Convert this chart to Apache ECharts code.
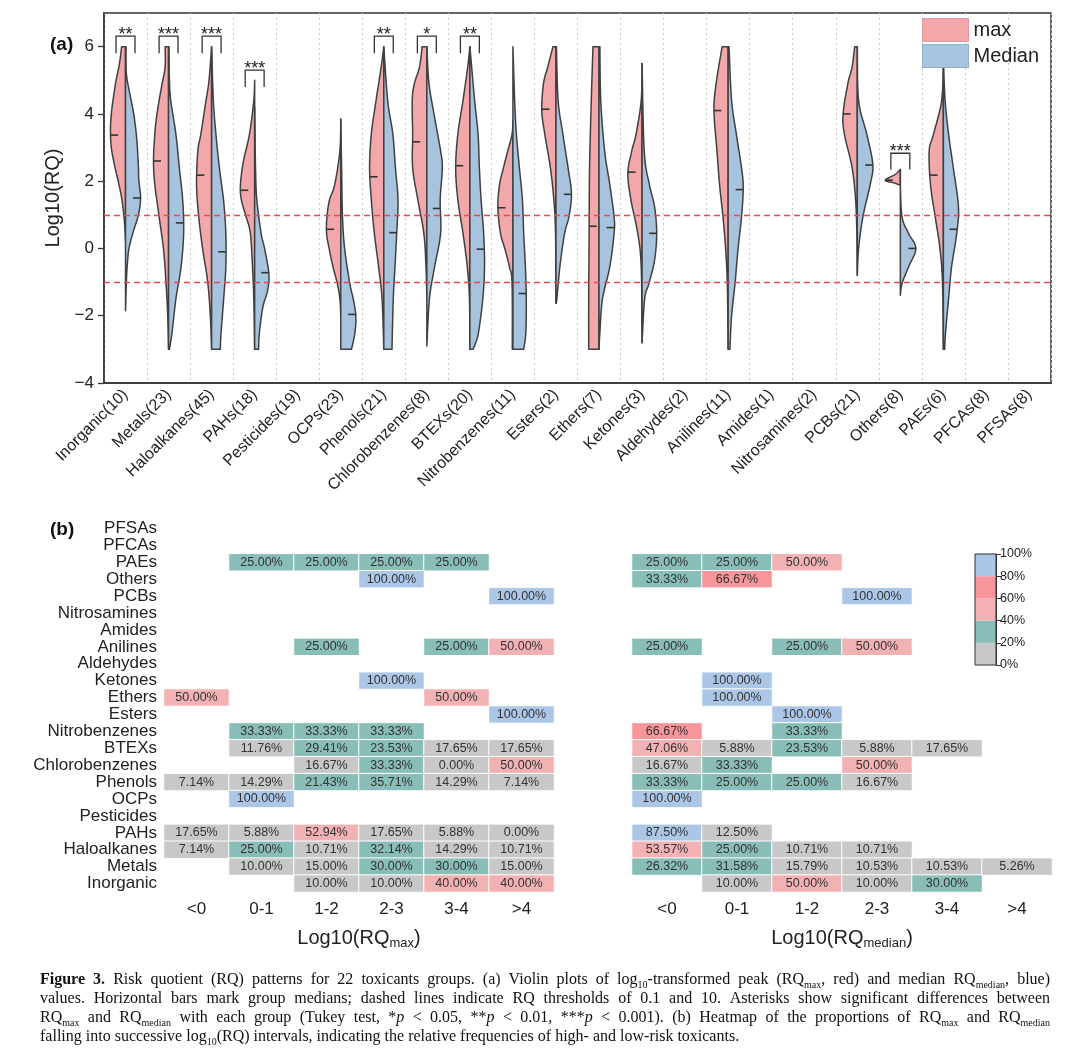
<!DOCTYPE html>
<html>
<head>
<meta charset="utf-8">
<script src="https://cdn.jsdelivr.net/npm/echarts@6/dist/echarts.min.js"></script>
<style>
html,body{margin:0;padding:0;background:#fff;}
#chart{width:1080px;height:1049px;}
</style>
</head>
<body>
<div id="chart"></div>
<script>
// ---------------- DATA ----------------
const groupNames = ['Inorganic','Metals','Haloalkanes','PAHs','Pesticides','OCPs','Phenols','Chlorobenzenes','BTEXs','Nitrobenzenes','Esters','Ethers','Ketones','Aldehydes','Anilines','Amides','Nitrosamines','PCBs','Others','PAEs','PFCAs','PFSAs'];
const groupCounts = [10,23,45,18,19,23,21,8,20,11,2,7,3,2,11,1,2,21,8,6,8,8];

// violin half profiles: [log10(RQ), half-width as fraction of category band]
const maxProfiles = [
  [[6,0.09],[5.5,0.14],[5,0.22],[4.5,0.28],[4,0.33],[3.5,0.35],[3,0.33],[2.5,0.26],[2,0.17],[1.5,0.09],[1,0.04],[0.5,0.01],[0.2,0]],
  [[6,0.08],[5.4,0.08],[4.9,0.15],[4.4,0.22],[3.9,0.28],[3.4,0.32],[2.6,0.35],[1.9,0.32],[0.95,0.22],[0,0.12],[-1,0.06],[-2,0.02],[-3,0]],
  [[6,0],[5,0.06],[4.4,0.13],[3.4,0.25],[2.9,0.32],[1.9,0.35],[0.95,0.3],[0,0.21],[-1,0.09],[-2,0.03],[-3,0]],
  [[5,0],[4.4,0.02],[3.4,0.12],[2.6,0.26],[1.9,0.33],[1.45,0.31],[0.95,0.2],[0.45,0.1],[-0.55,0.05],[-1.5,0.02],[-3,0]],
  null,
  [[3.85,0],[2.9,0.02],[1.9,0.14],[1.45,0.26],[0.95,0.32],[0.45,0.33],[0,0.27],[-0.55,0.18],[-1.04,0.08],[-1.5,0.02],[-2,0]],
  [[6,0],[5.4,0.06],[4.4,0.18],[3.4,0.29],[2.4,0.33],[1.45,0.29],[0.45,0.22],[-0.55,0.12],[-1.5,0.04],[-3,0]],
  [[6,0.11],[5.4,0.17],[4.9,0.29],[4.4,0.34],[3.4,0.33],[2.4,0.33],[1.45,0.21],[0.45,0.07],[-0.55,0.02],[-1.5,0]],
  [[6,0],[5.4,0.05],[4.4,0.16],[3.4,0.28],[2.4,0.33],[1.45,0.28],[0.45,0.16],[-0.55,0.06],[-1.5,0.01],[-3,0]],
  [[3.8,0],[3.4,0.02],[2.9,0.12],[2.4,0.22],[1.9,0.31],[1.24,0.35],[0.45,0.29],[0,0.19],[-0.55,0.08],[-1.04,0.02],[-3,0.015]],
  [[6,0.07],[5.4,0.19],[4.9,0.29],[4.1,0.33],[3.4,0.26],[2.4,0.13],[1.45,0.05],[0.45,0.01],[-1.63,0]],
  [[6,0.14],[4.4,0.18],[2.4,0.22],[0.45,0.23],[-1.5,0.24],[-3,0.24]],
  [[5.5,0],[4.4,0.02],[3.4,0.14],[2.9,0.24],[2.23,0.33],[1.45,0.26],[0.45,0.1],[-0.55,0.02],[-2.8,0]],
  null,
  [[6,0.14],[4.9,0.28],[4.1,0.33],[2.9,0.26],[1.9,0.2],[0.94,0.12],[0,0.06],[-1.04,0.02],[-3,0]],
  null,
  null,
  [[6,0.06],[5.4,0.12],[4.9,0.22],[4,0.33],[3.4,0.3],[2.4,0.12],[1.45,0.04],[0.45,0.01],[-0.8,0]],
  [[2.35,0],[2.2,0.12],[2.03,0.35],[1.95,0.15],[1.88,0]],
  [[5.57,0],[4.4,0.04],[3.4,0.23],[2.9,0.33],[1.9,0.3],[0.94,0.19],[0,0.08],[-1.04,0.02],[-3,0]],
  null,
  null
];
const medianProfiles = [
  [[6,0.01],[5.2,0.02],[4.6,0.1],[4,0.19],[3.4,0.25],[2.9,0.28],[2.4,0.3],[2,0.31],[1.5,0.35],[1,0.3],[0.5,0.18],[0,0.08],[-0.5,0.04],[-1,0.02],[-1.85,0]],
  [[6,0.01],[5,0.02],[4.4,0.05],[3.4,0.17],[2.4,0.25],[1.4,0.33],[0.45,0.35],[-0.55,0.29],[-1.5,0.17],[-2.5,0.08],[-3,0.02]],
  [[6,0],[4.4,0.04],[3.4,0.1],[2.4,0.18],[1.4,0.28],[0.45,0.33],[-0.55,0.33],[-1.5,0.28],[-2.5,0.22],[-3,0.2]],
  [[4.2,0],[2.4,0.02],[1.45,0.05],[0.45,0.15],[0,0.23],[-0.75,0.33],[-1.25,0.3],[-1.75,0.19],[-2.5,0.11],[-3,0.09]],
  null,
  [[3.85,0],[2.4,0.02],[0.95,0.04],[0,0.09],[-1.04,0.21],[-1.5,0.29],[-2,0.35],[-2.5,0.33],[-3,0.25]],
  [[6,0],[4.4,0.09],[3.4,0.21],[2.4,0.27],[1.45,0.33],[0.45,0.3],[-0.55,0.26],[-1.5,0.22],[-3,0.19]],
  [[6,0],[4.9,0.05],[3.9,0.18],[2.9,0.32],[2.4,0.36],[1.45,0.31],[0.45,0.32],[-0.55,0.18],[-1.5,0.06],[-2.9,0]],
  [[6,0],[4.4,0.11],[3.4,0.19],[2.4,0.22],[1.45,0.26],[0.45,0.32],[-0.55,0.34],[-1.5,0.3],[-2.5,0.2],[-2.85,0.12],[-3,0.07]],
  [[6,0],[4.4,0.04],[3.4,0.08],[2.4,0.15],[1.45,0.22],[0.45,0.25],[-0.55,0.29],[-1.5,0.31],[-2.5,0.3],[-3,0.25]],
  [[6,0.01],[4.4,0.05],[3.4,0.16],[2.4,0.28],[1.63,0.36],[0.94,0.3],[0.45,0.2],[-0.55,0.09],[-1.5,0.02],[-1.63,0]],
  [[6,0.02],[4.4,0.04],[2.9,0.13],[1.9,0.25],[0.94,0.35],[0.45,0.35],[-0.55,0.25],[-1.5,0.08],[-2.5,0.02],[-3,0]],
  [[5.5,0],[2.9,0.05],[1.9,0.17],[1.24,0.29],[0.45,0.34],[-0.35,0.29],[-1.04,0.16],[-1.5,0.06],[-2.8,0]],
  null,
  [[6,0.02],[4.4,0.08],[3.4,0.19],[2.4,0.31],[1.8,0.35],[0.94,0.31],[0,0.23],[-1.04,0.16],[-2,0.08],[-3,0.04]],
  null,
  null,
  [[6,0],[4.4,0.03],[3.4,0.22],[2.5,0.36],[1.9,0.3],[0.94,0.13],[0,0.03],[-0.8,0]],
  [[2.35,0],[1.88,0],[0.94,0.04],[0.45,0.19],[0,0.36],[-0.55,0.19],[-1.04,0.04],[-1.39,0]],
  [[5.57,0],[4.4,0.04],[3.4,0.12],[2.4,0.23],[1.24,0.35],[0.45,0.31],[-0.55,0.19],[-1.5,0.12],[-2.5,0.05],[-3,0.03]],
  null,
  null
];
const maxMedians    = [3.37,2.6,2.18,1.73,null,0.57,2.13,3.17,2.46,1.21,4.14,0.66,2.27,null,4.1,null,null,4.0,2.03,2.18,null,null];
const medianMedians = [1.5,0.76,-0.1,-0.72,null,-1.96,0.47,1.19,-0.02,-1.34,1.61,0.62,0.45,null,1.75,null,null,2.48,0.0,0.57,null,null];

// significance brackets: [category index, label, bracket top, leg bottom]
const sigBrackets = [
  [0,'**',6.31,5.8],[1,'***',6.31,5.8],[2,'***',6.31,5.8],[3,'***',5.3,4.8],
  [6,'**',6.31,5.8],[7,'*',6.31,5.8],[8,'**',6.31,5.8],[18,'***',2.83,2.35]
];
const thresholds = [1, -1];
const yTicks = [-4,-2,0,2,4,6];

// heatmap
const rqBins = ['<0','0-1','1-2','2-3','3-4','>4'];
const maxCells = [
  ['PAEs',1,25],['PAEs',2,25],['PAEs',3,25],['PAEs',4,25],
  ['Others',3,100],
  ['PCBs',5,100],
  ['Anilines',2,25],['Anilines',4,25],['Anilines',5,50],
  ['Ketones',3,100],
  ['Ethers',0,50],['Ethers',4,50],
  ['Esters',5,100],
  ['Nitrobenzenes',1,33.33],['Nitrobenzenes',2,33.33],['Nitrobenzenes',3,33.33],
  ['BTEXs',1,11.76],['BTEXs',2,29.41],['BTEXs',3,23.53],['BTEXs',4,17.65],['BTEXs',5,17.65],
  ['Chlorobenzenes',2,16.67],['Chlorobenzenes',3,33.33],['Chlorobenzenes',4,0],['Chlorobenzenes',5,50],
  ['Phenols',0,7.14],['Phenols',1,14.29],['Phenols',2,21.43],['Phenols',3,35.71],['Phenols',4,14.29],['Phenols',5,7.14],
  ['OCPs',1,100],
  ['PAHs',0,17.65],['PAHs',1,5.88],['PAHs',2,52.94],['PAHs',3,17.65],['PAHs',4,5.88],['PAHs',5,0],
  ['Haloalkanes',0,7.14],['Haloalkanes',1,25],['Haloalkanes',2,10.71],['Haloalkanes',3,32.14],['Haloalkanes',4,14.29],['Haloalkanes',5,10.71],
  ['Metals',1,10],['Metals',2,15],['Metals',3,30],['Metals',4,30],['Metals',5,15],
  ['Inorganic',2,10],['Inorganic',3,10],['Inorganic',4,40],['Inorganic',5,40]
];
const medianCells = [
  ['PAEs',0,25],['PAEs',1,25],['PAEs',2,50],
  ['Others',0,33.33],['Others',1,66.67],
  ['PCBs',3,100],
  ['Anilines',0,25],['Anilines',2,25],['Anilines',3,50],
  ['Ketones',1,100],
  ['Ethers',1,100],
  ['Esters',2,100],
  ['Nitrobenzenes',0,66.67],['Nitrobenzenes',2,33.33],
  ['BTEXs',0,47.06],['BTEXs',1,5.88],['BTEXs',2,23.53],['BTEXs',3,5.88],['BTEXs',4,17.65],
  ['Chlorobenzenes',0,16.67],['Chlorobenzenes',1,33.33],['Chlorobenzenes',3,50],
  ['Phenols',0,33.33],['Phenols',1,25],['Phenols',2,25],['Phenols',3,16.67],
  ['OCPs',0,100],
  ['PAHs',0,87.5],['PAHs',1,12.5],
  ['Haloalkanes',0,53.57],['Haloalkanes',1,25],['Haloalkanes',2,10.71],['Haloalkanes',3,10.71],
  ['Metals',0,26.32],['Metals',1,31.58],['Metals',2,15.79],['Metals',3,10.53],['Metals',4,10.53],['Metals',5,5.26],
  ['Inorganic',1,10],['Inorganic',2,50],['Inorganic',3,10],['Inorganic',4,30]
];
const colorBreaks = [0,20,40,60,80,100];

const captionLines = [
  '{b|Figure} {b|3.} Risk quotient (RQ) patterns for 22 toxicants groups. (a) Violin plots of log{sub|10}-transformed peak (RQ{sub|max}, red) and median RQ{sub|median}, blue)',
  'values. Horizontal bars mark group medians; dashed lines indicate RQ thresholds of 0.1 and 10. Asterisks show significant differences between',
  'RQ{sub|max} and RQ{sub|median} with each group (Tukey test, *{i|p} < 0.05, **{i|p} < 0.01, ***{i|p} < 0.001). (b) Heatmap of the proportions of RQ{sub|max} and RQ{sub|median}',
  'falling into successive log{sub|10}(RQ) intervals, indicating the relative frequencies of high- and low-risk toxicants.'
];

// ---------------- STYLE ----------------
const FONT = '"Liberation Sans", Arial, sans-serif';
const SERIF = '"Liberation Serif", "Times New Roman", serif';
const RED = '#f2a8ab', BLUE = '#a8c3dd', OUTLINE = '#404040';
const binColors = ['#c8c8c8','#88beb7','#f2b2b4','#f7969a','#abc6e7'];
const DASH_RED = '#e84a55';

// ---------------- HELPERS ----------------
function crSample(pts, n) {
  const out = [];
  for (let i = 0; i < pts.length - 1; i++) {
    const p0 = pts[i - 1] || pts[i], p1 = pts[i], p2 = pts[i + 1], p3 = pts[i + 2] || pts[i + 1];
    for (let k = 0; k < n; k++) {
      const t = k / n, t2 = t * t, t3 = t2 * t;
      const f = (a, b, c, d) => 0.5 * (2 * b + (-a + c) * t + (2 * a - 5 * b + 4 * c - d) * t2 + (-a + 3 * b - 3 * c + d) * t3);
      out.push([f(p0[0], p1[0], p2[0], p3[0]), f(p0[1], p1[1], p2[1], p3[1])]);
    }
  }
  out.push(pts[pts.length - 1]);
  return out;
}
function widthAt(prof, v) {
  for (let i = 0; i < prof.length - 1; i++) {
    const a = prof[i], b = prof[i + 1];
    if (v <= a[0] && v >= b[0]) {
      const t = (a[0] - v) / (a[0] - b[0] || 1);
      return a[1] + (b[1] - a[1]) * t;
    }
  }
  return 0;
}
function violinRender(profiles, medians, side, color) {
  return function (params, api) {
    const i = api.value(0);
    const prof = profiles[i];
    const band = api.size([1, 0])[0];
    const cx = api.coord([i, 0])[0];
    const pts = prof.map(p => [cx + side * p[1] * band, api.coord([i, p[0]])[1]]);
    const edge = crSample(pts, 12).map(p => [side < 0 ? Math.min(p[0], cx) : Math.max(p[0], cx), p[1]]);
    const poly = [[cx, pts[0][1]]].concat(edge, [[cx, pts[pts.length - 1][1]]]);
    const children = [{
      type: 'polygon', shape: { points: poly },
      style: { fill: color, stroke: OUTLINE, lineWidth: 1.5, lineJoin: 'round' }
    }];
    const m = medians[i];
    if (m != null) {
      const w = widthAt(prof, m) * band;
      const my = api.coord([i, m])[1];
      const len = Math.min(w, 7.5);
      children.push({
        type: 'line',
        shape: { x1: cx + side * w, y1: my, x2: cx + side * (w - len), y2: my },
        style: { stroke: '#333', lineWidth: 1.6 }
      });
    }
    return { type: 'group', children };
  };
}
function sigRender(params, api) {
  const i = api.value(0);
  const b = sigBrackets[params.dataIndex];
  const band = api.size([1, 0])[0];
  const cx = api.coord([i, 0])[0];
  const yT = api.coord([i, api.value(1)])[1];
  const yL = api.coord([i, api.value(2)])[1];
  const xL = cx - 0.22 * band, xR = cx + 0.22 * band;
  return {
    type: 'group', children: [
      { type: 'polyline', shape: { points: [[xL, yL], [xL, yT], [xR, yT], [xR, yL]] }, style: { stroke: '#333', lineWidth: 1.3, fill: null } },
      { type: 'text', x: cx, y: yT - 1, style: { text: b[1], align: 'center', verticalAlign: 'middle', fontSize: 18, fontFamily: FONT, fill: '#222' } }
    ]
  };
}

// caption layout (justified)
const capSize = 16;
const capRich = {
  b: { fontWeight: 'bold', fontSize: capSize, fontFamily: SERIF, lineHeight: 20 },
  i: { fontStyle: 'italic', fontSize: capSize, fontFamily: SERIF, lineHeight: 20 },
  sub: { fontSize: 10, fontFamily: SERIF, verticalAlign: 'bottom', lineHeight: 10 }
};
const mctx = document.createElement('canvas').getContext('2d');
function segs(word) {
  const re = /\{(\w+)\|([^}]*)\}|([^{]+)/g; const out = []; let m;
  while ((m = re.exec(word))) out.push(m[1] ? [m[1], m[2]] : ['n', m[3]]);
  return out;
}
function fontOf(st) {
  if (st === 'b') return 'bold ' + capSize + 'px ' + SERIF;
  if (st === 'i') return 'italic ' + capSize + 'px ' + SERIF;
  if (st === 'sub') return '10px ' + SERIF;
  return capSize + 'px ' + SERIF;
}
function measureWord(w) {
  return segs(w).reduce((s, sg) => { mctx.font = fontOf(sg[0]); return s + mctx.measureText(sg[1]).width; }, 0);
}
const capLeft = 40, capRight = 1050, capTop = 980, capStep = 19;
const captionGraphics = [];
captionLines.forEach((line, li) => {
  const words = line.split(' ');
  const ws = words.map(measureWord);
  const total = ws.reduce((a, b) => a + b, 0);
  mctx.font = fontOf('n');
  const space = mctx.measureText(' ').width;
  const justify = li < captionLines.length - 1;
  const gap = justify ? (capRight - capLeft - total) / (words.length - 1) : space;
  let x = capLeft;
  words.forEach((w, k) => {
    captionGraphics.push({
      type: 'text', x: x, y: capTop + li * capStep,
      style: { text: w, rich: capRich, fontSize: capSize, fontFamily: SERIF, lineHeight: 20, fill: '#111', align: 'left', verticalAlign: 'middle' }
    });
    x += ws[k] + gap;
  });
});

// ---------------- OPTION ----------------
const violinIdx = groupNames.map((_, i) => i).filter(i => maxProfiles[i]);
const rowIndex = n => groupNames.indexOf(n);

const option = {
  animation: false,
  textStyle: { fontFamily: FONT },
  legend: {
    data: [
      { name: 'max', icon: 'rect', itemStyle: { color: RED, borderColor: '#e39a9e', borderWidth: 1 } },
      { name: 'Median', icon: 'rect', itemStyle: { color: BLUE, borderColor: '#92aecb', borderWidth: 1 } }
    ],
    orient: 'vertical', left: 922, top: 18, itemWidth: 46, itemHeight: 23, itemGap: 2,
    textStyle: { fontSize: 20, color: '#222', fontFamily: FONT }, padding: 0
  },
  grid: [
    { left: 104, top: 13, width: 947, height: 370, show: true, borderColor: '#333', borderWidth: 1.5, backgroundColor: 'transparent' },
    { left: 164, top: 520, width: 390, height: 372 },
    { left: 632, top: 520, width: 420, height: 372 },
    { left: 975, top: 554, width: 21, height: 111, show: true, borderColor: '#333', borderWidth: 1, z: 5 }
  ],
  xAxis: [
    {
      type: 'category', gridIndex: 0, data: groupNames.map((n, i) => n + '(' + groupCounts[i] + ')'),
      axisLine: { onZero: false, lineStyle: { color: '#333', width: 1.5 } },
      axisTick: { alignWithLabel: true, length: 6, lineStyle: { color: '#333', width: 1.3 } },
      axisLabel: { interval: 0, rotate: 45, fontSize: 16, color: '#222', margin: 9 },
      splitLine: { show: true, interval: 0, lineStyle: { color: '#c8c8c8', type: [2, 3], width: 1 } }
    },
    {
      type: 'category', gridIndex: 1, data: rqBins,
      axisLine: { show: false, onZero: false },
      axisTick: { alignWithLabel: true, length: 4, lineStyle: { color: '#555', width: 1.5 } },
      axisLabel: { fontSize: 17, color: '#222', margin: 9 },
      name: 'Log10(RQ{sub|max})', nameLocation: 'middle', nameGap: 34,
      nameTextStyle: { fontSize: 20, color: '#222', lineHeight: 24, rich: { sub: { fontSize: 13, verticalAlign: 'bottom', lineHeight: 13, color: '#222', fontFamily: FONT } } }
    },
    {
      type: 'category', gridIndex: 2, data: rqBins,
      axisLine: { show: false, onZero: false },
      axisTick: { alignWithLabel: true, length: 4, lineStyle: { color: '#555', width: 1.5 } },
      axisLabel: { fontSize: 17, color: '#222', margin: 9 },
      name: 'Log10(RQ{sub|median})', nameLocation: 'middle', nameGap: 34,
      nameTextStyle: { fontSize: 20, color: '#222', lineHeight: 24, rich: { sub: { fontSize: 13, verticalAlign: 'bottom', lineHeight: 13, color: '#222', fontFamily: FONT } } }
    },
    { type: 'category', gridIndex: 3, data: [''], show: false }
  ],
  yAxis: [
    {
      type: 'value', gridIndex: 0, min: -4, max: 7,
      axisLine: { show: true, onZero: false, lineStyle: { color: '#333', width: 1.5 } },
      axisTick: { show: true, length: 6, customValues: yTicks, lineStyle: { color: '#333', width: 1.3 } },
      axisLabel: { customValues: yTicks, fontSize: 17, color: '#222', margin: 10, formatter: v => String(v).replace('-', '\u2212') },
      splitLine: { show: false },
      name: 'Log10(RQ)', nameLocation: 'middle', nameGap: 38,
      nameTextStyle: { fontSize: 20, color: '#222' }
    },
    {
      type: 'category', gridIndex: 1, data: groupNames,
      axisLine: { show: false, onZero: false },
      axisTick: { alignWithLabel: true, length: 5, lineStyle: { color: '#333', width: 1.2 } },
      axisLabel: { interval: 0, fontSize: 17, color: '#222', margin: 7 }
    },
    { type: 'category', gridIndex: 2, data: groupNames, show: false },
    {
      type: 'value', gridIndex: 3, min: 0, max: 100, interval: 20, position: 'right',
      axisLine: { show: true, lineStyle: { color: '#333', width: 1 } },
      axisTick: { show: true, length: 5, lineStyle: { color: '#333' } },
      axisLabel: { fontSize: 12.5, color: '#222', margin: 4, formatter: '{value}%' },
      splitLine: { show: false }
    }
  ],
  visualMap: {
    type: 'piecewise', show: false, dimension: 2, seriesIndex: [4, 5],
    pieces: binColors.map((c, k) => k === binColors.length - 1
      ? { gte: colorBreaks[k], lte: colorBreaks[k + 1], color: c }
      : { gte: colorBreaks[k], lt: colorBreaks[k + 1], color: c })
  },
  series: [
    {
      name: 'max', type: 'custom', xAxisIndex: 0, yAxisIndex: 0, itemStyle: { color: RED },
      renderItem: violinRender(maxProfiles, maxMedians, -1, RED),
      data: violinIdx.map(i => [i, maxMedians[i]]), z: 2
    },
    {
      name: 'Median', type: 'custom', xAxisIndex: 0, yAxisIndex: 0, itemStyle: { color: BLUE },
      renderItem: violinRender(medianProfiles, medianMedians, 1, BLUE),
      data: violinIdx.map(i => [i, medianMedians[i]]), z: 2
    },
    {
      name: 'sig', type: 'custom', xAxisIndex: 0, yAxisIndex: 0,
      renderItem: sigRender,
      data: sigBrackets.map(b => [b[0], b[2], b[3]]), z: 3
    },
    {
      name: 'thr', type: 'line', xAxisIndex: 0, yAxisIndex: 0, data: [], z: 4,
      color: DASH_RED,
      markLine: {
        silent: true, symbol: 'none', label: { show: false },
        lineStyle: { color: DASH_RED, type: [6, 4], width: 1.3 },
        data: thresholds.map(t => ({ yAxis: t, lineStyle: { color: DASH_RED, type: [6, 4], width: 1.3 } }))
      }
    },
    {
      name: 'heatMax', type: 'heatmap', xAxisIndex: 1, yAxisIndex: 1,
      data: maxCells.map(c => [c[1], rowIndex(c[0]), c[2]]),
      itemStyle: { borderColor: '#fff', borderWidth: 1 },
      label: { show: true, fontSize: 12.5, color: '#333', formatter: p => p.value[2].toFixed(2) + '%' }
    },
    {
      name: 'heatMedian', type: 'heatmap', xAxisIndex: 2, yAxisIndex: 2,
      data: medianCells.map(c => [c[1], rowIndex(c[0]), c[2]]),
      itemStyle: { borderColor: '#fff', borderWidth: 1 },
      label: { show: true, fontSize: 12.5, color: '#333', formatter: p => p.value[2].toFixed(2) + '%' }
    }
  ].concat(binColors.map((c, k) => ({
    name: 'cb' + k, type: 'bar', xAxisIndex: 3, yAxisIndex: 3, stack: 'cb', barWidth: '100%',
    data: [colorBreaks[k + 1] - colorBreaks[k]], itemStyle: { color: c }, silent: true
  }))),
  graphic: [
    { type: 'text', x: 50, y: 45, style: { text: '(a)', fontSize: 19, fontWeight: 'bold', fontFamily: FONT, fill: '#111', verticalAlign: 'middle' } },
    { type: 'text', x: 50, y: 530, style: { text: '(b)', fontSize: 19, fontWeight: 'bold', fontFamily: FONT, fill: '#111', verticalAlign: 'middle' } }
  ].concat(captionGraphics)
};

const chart = echarts.init(document.getElementById('chart'), null, { renderer: 'canvas' });
chart.setOption(option);
</script>
</body>
</html>
